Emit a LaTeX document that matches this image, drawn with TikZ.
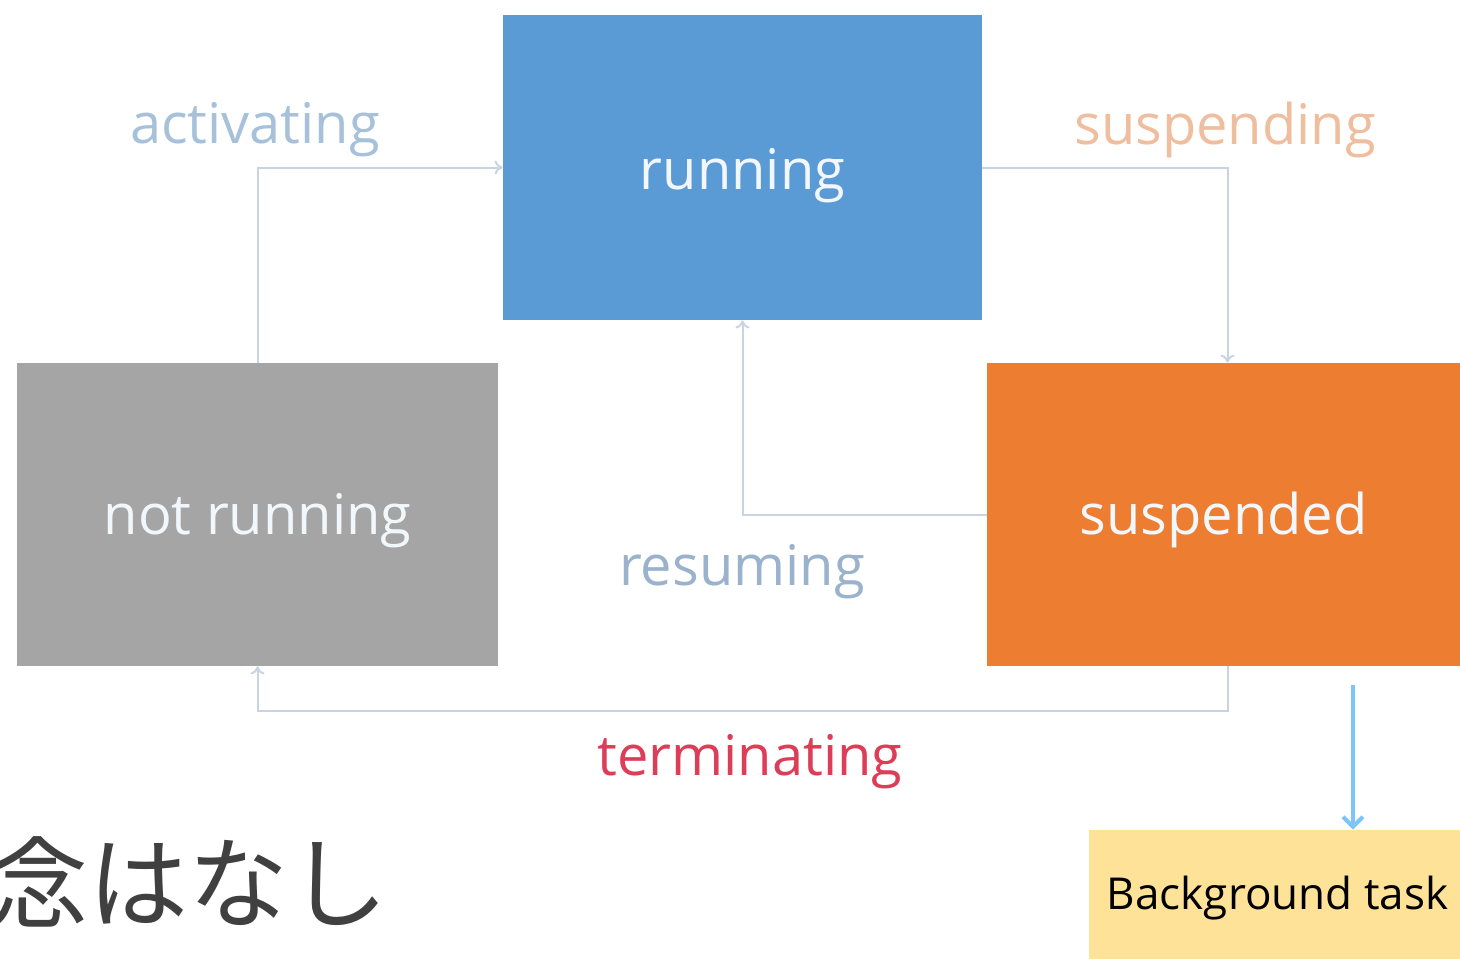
\documentclass[tikz,border=0pt]{standalone}
\usepackage{fontspec}
\setmainfont{Open Sans}
\newfontfamily\jpfont{Noto Sans CJK JP}
\usepackage{tikz}
\usetikzlibrary{shapes,arrows.meta}

\definecolor{runblue}{HTML}{5B9BD5}
\definecolor{idlegray}{HTML}{A5A5A5}
\definecolor{susporange}{HTML}{ED7D31}
\definecolor{taskyellow}{HTML}{FEE298}
\definecolor{linkgray}{HTML}{C8D4E3}
\definecolor{actblue}{HTML}{A7C1DA}
\definecolor{susppale}{HTML}{EFBE9F}
\definecolor{resblue}{HTML}{9AB2CB}
\definecolor{termred}{HTML}{DC3E58}
\definecolor{bgarrow}{HTML}{7CC4FA}
\definecolor{jpgray}{HTML}{404040}

% lower a box text a little without changing the box
\newcommand{\lowtext}[2]{\raisebox{#1}[0.75em][0.25em]{#2}}

\tikzset{
	state/.style={rectangle, inner sep=0pt, text=white!92!runblue, font=\fontsize{28}{32}\selectfont},
	link/.style={draw=linkgray, line width=1pt, -{To[length=4pt,width=7pt]}},
	lbl/.style={font=\fontsize{28}{32}\selectfont}
}

\begin{document}
\begin{tikzpicture}[x=0.5pt, y=-0.5pt]
\useasboundingbox (0,0) rectangle (1460,959);

% the three states
\node[state, fill=runblue, minimum width=239.5pt, minimum height=152.5pt] (run) at (742.5,167.5) {\lowtext{-4pt}{running}};
\node[state, fill=idlegray, minimum width=240.5pt, minimum height=151.5pt] (idle) at (257.5,514.5) {\lowtext{-3pt}{not running}};
\node[state, fill=susporange, minimum width=236.5pt, minimum height=151.5pt] (susp) at (1223.5,514.5) {\lowtext{-3pt}{suspended}};

% transitions
\draw[link] (idle.north) |- (run.west);
\draw[link] (run.east) -| ([xshift=2pt]susp.north);
\draw[link] (susp.west) -| (run.south);
\draw[link] ([xshift=2pt]susp.south) -- ++(0,45) -| (idle.south);

\node[lbl, text=actblue] (lact) at (255,130) {activating};
\node[lbl, text=susppale] (lsusp) at (1225,130) {suspending};
\node[lbl, text=resblue] (lres) at (742,572) {resuming};
\node[lbl, text=termred] (lterm) at (750,762) {terminating};

% background task
\node[rectangle, fill=taskyellow, inner sep=0pt, minimum width=185.5pt, minimum height=64.5pt,
	font=\fontsize{22}{26}\selectfont] (bg) at (1274.5,894.5) {\hspace{3pt}\lowtext{-2pt}{Background task}};
\coordinate (bgsrc) at (1353,685);
\draw[bgarrow, line width=2pt, -{Straight Barb[length=5pt,width=10pt]}] (bgsrc) -- (bgsrc |- bg.north);

% cut-off Japanese text
\node[anchor=west, inner sep=0pt, text=jpgray, font=\jpfont\fontsize{50}{54}\selectfont] (jp) at (-12,882) {念はなし};
\end{tikzpicture}
\end{document}
